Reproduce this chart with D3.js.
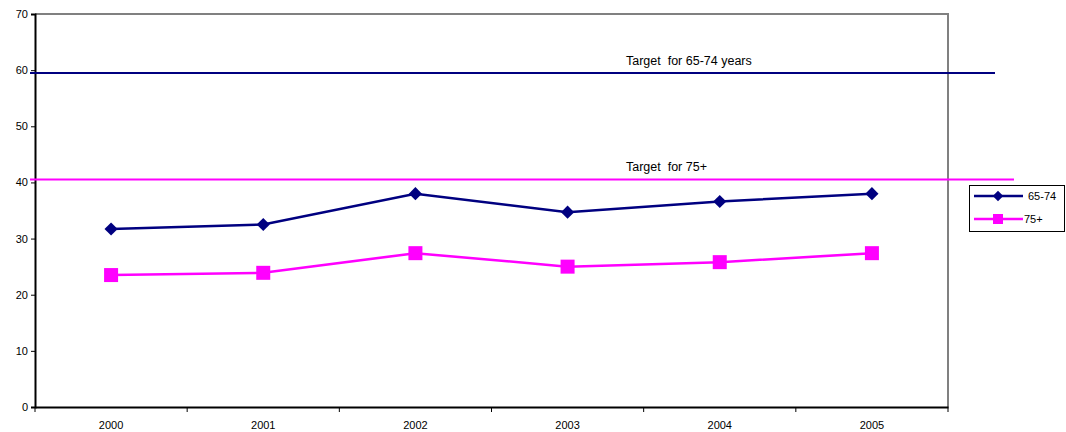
<html>
<head>
<script src="https://d3js.org/d3.v7.min.js"></script>
<style>
  body { margin: 0; background: #fff; }
  text { font-family: Arial, "Liberation Sans", sans-serif; fill: #000; }
</style>
</head>
<body>
<script>
// chart data
var years = ["2000", "2001", "2002", "2003", "2004", "2005"];
var age6574 = [31.7, 32.5, 38.0, 34.7, 36.6, 38.0];
var age75plus = [23.5, 23.9, 27.4, 25.0, 25.8, 27.4];
var yTicks = [0, 10, 20, 30, 40, 50, 60, 70];
var target6574 = 59.5;
var target75plus = 40.5;

var W = 1066, H = 432;
// plot box (note: "top" is reserved on window, so use other names)
var pLeft = 35, pRight = 948, pTop = 14, pBottom = 407;

var svg = d3.select("body").append("svg")
  .attr("width", W).attr("height", H);

var x = d3.scaleBand().domain(years).range([pLeft, pRight]);
var y = d3.scaleLinear().domain([0, 70]).range([pBottom, pTop]);

// grey frame on top and right
svg.append("path")
  .attr("d", "M" + pLeft + "," + pTop + "H" + pRight + "V" + pBottom)
  .attr("fill", "none").attr("stroke", "#808080").attr("stroke-width", 2);

// y axis
var yAxis = svg.append("g")
  .attr("transform", "translate(" + pLeft + ",0)")
  .call(d3.axisLeft(y).tickValues(yTicks).tickSize(4).tickPadding(3));
yAxis.select(".domain").attr("stroke", "#000").attr("stroke-width", 2);
yAxis.selectAll(".tick line").attr("stroke", "#000");
yAxis.selectAll("text").style("font-size", "11px");

// x axis, ticks at band edges
var xAxis = svg.append("g")
  .attr("transform", "translate(0," + pBottom + ")")
  .call(d3.axisBottom(x).tickSize(0).tickPadding(14));
xAxis.select(".domain").attr("stroke", "#000").attr("stroke-width", 2);
xAxis.selectAll("text").style("font-size", "11px");
var edges = years.map(function(d) { return x(d); }).concat([pRight]);
svg.append("g").selectAll("line").data(edges).enter().append("line")
  .attr("x1", function(d) { return d; }).attr("x2", function(d) { return d; })
  .attr("y1", pBottom).attr("y2", pBottom + 5)
  .attr("stroke", "#000");

// target lines
svg.append("line")
  .attr("x1", 30).attr("x2", 995)
  .attr("y1", y(target6574)).attr("y2", y(target6574))
  .attr("stroke", "#000080").attr("stroke-width", 2);
svg.append("line")
  .attr("x1", 30).attr("x2", 1014)
  .attr("y1", y(target75plus)).attr("y2", y(target75plus))
  .attr("stroke", "#ff00ff").attr("stroke-width", 2);
svg.append("text").attr("x", 626).attr("y", y(target6574) - 8)
  .style("font-size", "12.5px").attr("xml:space", "preserve")
  .text("Target  for 65-74 years");
svg.append("text").attr("x", 626).attr("y", y(target75plus) - 9)
  .style("font-size", "12.5px").attr("xml:space", "preserve")
  .text("Target  for 75+");

var cx = function(d, i) { return x(years[i]) + x.bandwidth() / 2; };
var line = d3.line().x(cx).y(function(d) { return y(d); });

// series 65-74
svg.append("path").datum(age6574)
  .attr("d", line).attr("fill", "none")
  .attr("stroke", "#000080").attr("stroke-width", 2.5);
svg.append("g").selectAll("path").data(age6574).enter().append("path")
  .attr("d", d3.symbol().type(d3.symbolDiamond2).size(110))
  .attr("transform", function(d, i) { return "translate(" + cx(d, i) + "," + y(d) + ")"; })
  .attr("fill", "#000080");

// series 75+
svg.append("path").datum(age75plus)
  .attr("d", line).attr("fill", "none")
  .attr("stroke", "#ff00ff").attr("stroke-width", 2.5);
svg.append("g").selectAll("rect").data(age75plus).enter().append("rect")
  .attr("x", function(d, i) { return cx(d, i) - 7; })
  .attr("y", function(d) { return y(d) - 7; })
  .attr("width", 14).attr("height", 14)
  .attr("fill", "#ff00ff");

// legend
var lg = svg.append("g");
lg.append("rect").attr("x", 969.5).attr("y", 185.5)
  .attr("width", 95).attr("height", 46)
  .attr("fill", "#fff").attr("stroke", "#000");
lg.append("line").attr("x1", 974).attr("x2", 1023).attr("y1", 196).attr("y2", 196)
  .attr("stroke", "#000080").attr("stroke-width", 2.5);
lg.append("path").attr("d", d3.symbol().type(d3.symbolDiamond2).size(70))
  .attr("transform", "translate(998,196)").attr("fill", "#000080");
lg.append("text").attr("x", 1028).attr("y", 200).style("font-size", "11px").text("65-74");
lg.append("line").attr("x1", 974).attr("x2", 1023).attr("y1", 219).attr("y2", 219)
  .attr("stroke", "#ff00ff").attr("stroke-width", 2.5);
lg.append("rect").attr("x", 993).attr("y", 214).attr("width", 10).attr("height", 10)
  .attr("fill", "#ff00ff");
lg.append("text").attr("x", 1024).attr("y", 223).style("font-size", "11px").text("75+");
</script>
</body>
</html>
